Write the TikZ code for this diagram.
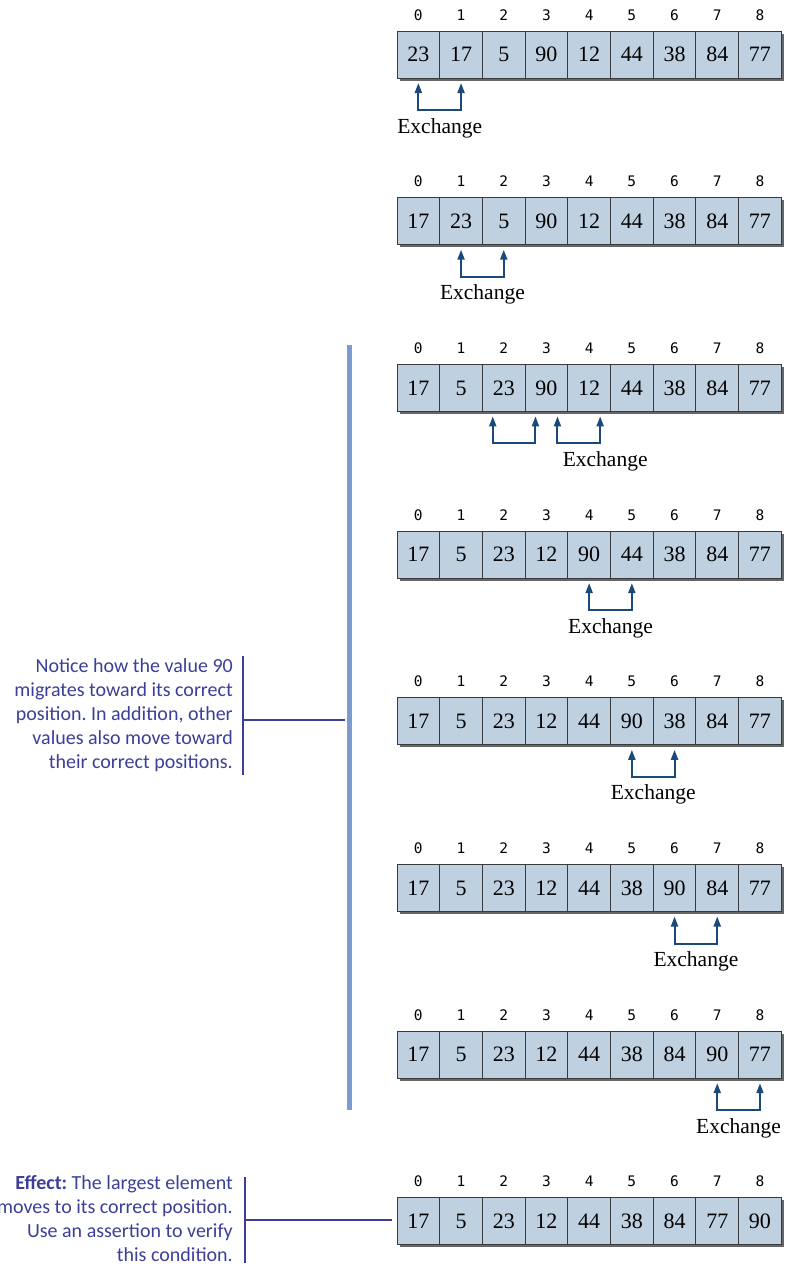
\documentclass[tikz,border=0pt]{standalone}
\usepackage{fontspec}
\setmainfont{Liberation Serif}
\newfontfamily\notefont{Carlito}
\newfontfamily\idxfont{DejaVu Sans Mono}
\usetikzlibrary{arrows.meta, shadows, calc}
\definecolor{bsCell}{HTML}{BFD0E1}
\definecolor{bsInk}{HTML}{3A3A3A}
\definecolor{bsArrow}{HTML}{1A4A7A}
\definecolor{bsBar}{HTML}{7E9BD1}
\definecolor{bsNote}{HTML}{3B3F98}
\frenchspacing

\begin{document}
\begin{tikzpicture}[
    x=1pt, y=1pt,
    cell/.style={draw=bsInk, line width=1pt, fill=bsCell, minimum width=42.7pt,
                 minimum height=47pt, inner sep=0pt, outer sep=0pt,
                 font=\fontsize{22}{24}\selectfont,
                 drop shadow={shadow xshift=2.5pt, shadow yshift=-2.5pt, fill=black!60, opacity=1}},
    idx/.style={font=\idxfont\fontsize{14.5}{16}\selectfont, inner sep=0pt},
    xch/.style={{Triangle[length=10pt,width=7pt]}-{Triangle[length=10pt,width=7pt]},
                draw=bsArrow, line width=2pt},
    xlabel/.style={font=\fontsize{21.5}{24}\selectfont, inner sep=0pt},
    note/.style={anchor=east, align=right, text=bsNote, inner sep=0pt,
                 font=\notefont\fontsize{20}{24}\selectfont},
    noteline/.style={draw=bsNote, line width=1.8pt},
    bar/.style={draw=bsBar, line width=5pt},
  ]
  \useasboundingbox (0,0) rectangle (786,-1272);
  % one array per pass, rows 166.7 apart
  \foreach \vals [count=\r from 0] in {{23,17,5,90,12,44,38,84,77},
                                        {17,23,5,90,12,44,38,84,77},
                                        {17,5,23,90,12,44,38,84,77},
                                        {17,5,23,12,90,44,38,84,77},
                                        {17,5,23,12,44,90,38,84,77},
                                        {17,5,23,12,44,38,90,84,77},
                                        {17,5,23,12,44,38,84,90,77},
                                        {17,5,23,12,44,38,84,77,90}} {
    \pgfmathsetmacro\yc{-54.5-166.7*\r}
    \foreach \v [count=\i from 0] in \vals {
      \node[cell] (c\r-\i) at (418.35+42.7*\i, \yc) {\v};
      \node[idx, anchor=base] (i\r-\i) at (418.35+42.7*\i, \yc+34.5) {\i};
    }
  }

  % exchanges
  \draw[xch] ([yshift=-5pt]c0-0.south) -- ++(0,-27) -| ([yshift=-5pt]c0-1.south);
  \node[xlabel] (x0) at ([yshift=-50pt]$(c0-0.south)!0.5!(c0-1.south)$) {Exchange};
  \draw[xch] ([yshift=-5pt]c1-1.south) -- ++(0,-27) -| ([yshift=-5pt]c1-2.south);
  \node[xlabel] (x1) at ([yshift=-50pt]$(c1-1.south)!0.5!(c1-2.south)$) {Exchange};
  \draw[xch] ([xshift=-11pt,yshift=-5pt]c2-2.south) -- ++(0,-27) -| ([xshift=-11pt,yshift=-5pt]c2-3.south);
  \draw[xch] ([xshift=11pt,yshift=-5pt]c2-3.south) -- ++(0,-27) -| ([xshift=11pt,yshift=-5pt]c2-4.south);
  \node[xlabel] (x2) at ([xshift=16pt,yshift=-50pt]c2-4.south) {Exchange};
  \draw[xch] ([yshift=-5pt]c3-4.south) -- ++(0,-27) -| ([yshift=-5pt]c3-5.south);
  \node[xlabel] (x3) at ([yshift=-50pt]$(c3-4.south)!0.5!(c3-5.south)$) {Exchange};
  \draw[xch] ([yshift=-5pt]c4-5.south) -- ++(0,-27) -| ([yshift=-5pt]c4-6.south);
  \node[xlabel] (x4) at ([yshift=-50pt]$(c4-5.south)!0.5!(c4-6.south)$) {Exchange};
  \draw[xch] ([yshift=-5pt]c5-6.south) -- ++(0,-27) -| ([yshift=-5pt]c5-7.south);
  \node[xlabel] (x5) at ([yshift=-50pt]$(c5-6.south)!0.5!(c5-7.south)$) {Exchange};
  \draw[xch] ([yshift=-5pt]c6-7.south) -- ++(0,-27) -| ([yshift=-5pt]c6-8.south);
  \node[xlabel] (x6) at ([yshift=-50pt]$(c6-7.south)!0.5!(c6-8.south)$) {Exchange};

  % notes on the left
  \draw[bar] (349,-345) coordinate (bartop) -- (349,-1110) coordinate (barbot);
  \node[note] (n1) at (233,-715) {Notice how the value 90\\migrates toward its correct\\position. In addition, other\\values also move toward\\their correct positions.};
  \draw[noteline] (243,-656) -- (243,-775);
  \coordinate (k1) at (243,-720);
  \draw[noteline] (k1) -- ([xshift=-4.5pt]k1 -| bartop);
  \node[note] (n2) at (233,-1219) {\textbf{Effect:} The largest element\\moves to its correct position.\\Use an assertion to verify\\this condition.};
  \draw[noteline] (245,-1177) -- (245,-1263);
  \coordinate (k2) at (245,-1220);
  \draw[noteline] (k2) -- ([xshift=-5pt]k2 -| c7-0.west);
\end{tikzpicture}
\end{document}
